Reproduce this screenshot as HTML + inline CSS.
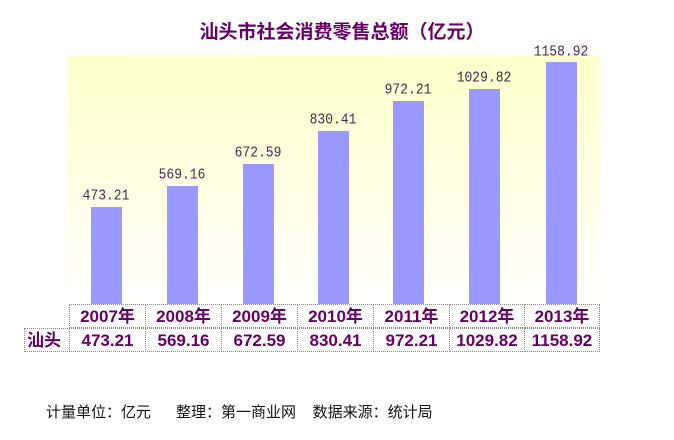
<!DOCTYPE html><html><head><meta charset="utf-8"><style>
body{margin:0;width:674px;height:440px;background:#fff;position:relative;overflow:hidden;font-family:"Liberation Sans","Noto Sans CJK SC",sans-serif}
.a{position:absolute}
.bar{position:absolute;width:31px;background:#9999ff}
.v{position:absolute;width:80px;text-align:center;font-family:"Liberation Mono","Noto Sans CJK SC",monospace;font-size:13px;color:#4a2a4a;transform:scaleY(1.15)}
.c{position:absolute;height:24px;line-height:24px;text-align:center;font-weight:bold;font-size:17px;color:#660066;box-sizing:border-box;border:1px dotted #888}
</style></head><body>
<div class="a" style="left:68px;top:55px;width:532px;height:250px;background:linear-gradient(#ffffcc,#ffffe8 60%,#fff)"></div>
<div class="a" style="left:0;top:19px;width:674px;text-align:center;font-size:19px;font-weight:bold;color:#660066;font-family:'Noto Sans CJK SC',sans-serif;line-height:24px;padding-left:5px">汕头市社会消费零售总额（亿元）</div>
<div class="bar" style="left:91px;top:207px;height:97px"></div>
<div class="bar" style="left:167px;top:186px;height:118px"></div>
<div class="bar" style="left:243px;top:164px;height:140px"></div>
<div class="bar" style="left:318px;top:131px;height:173px"></div>
<div class="bar" style="left:393px;top:101px;height:203px"></div>
<div class="bar" style="left:469px;top:89px;height:215px"></div>
<div class="bar" style="left:546px;top:62px;height:242px"></div>
<div class="v" style="left:66px;top:188px">473.21</div>
<div class="v" style="left:142px;top:167px">569.16</div>
<div class="v" style="left:218px;top:145px">672.59</div>
<div class="v" style="left:293px;top:112px">830.41</div>
<div class="v" style="left:368px;top:82px">972.21</div>
<div class="v" style="left:444px;top:70px">1029.82</div>
<div class="v" style="left:521px;top:44px">1158.92</div>
<div class="c" style="left:69px;top:304px;width:77px">2007年</div>
<div class="c" style="left:145px;top:304px;width:77px">2008年</div>
<div class="c" style="left:221px;top:304px;width:77px">2009年</div>
<div class="c" style="left:297px;top:304px;width:77px">2010年</div>
<div class="c" style="left:373px;top:304px;width:77px">2011年</div>
<div class="c" style="left:449px;top:304px;width:76px">2012年</div>
<div class="c" style="left:524px;top:304px;width:76px">2013年</div>
<div class="c" style="left:24px;top:328px;width:46px;text-align:left;padding-left:2px">汕头</div>
<div class="c" style="left:69px;top:328px;width:77px">473.21</div>
<div class="c" style="left:145px;top:328px;width:77px">569.16</div>
<div class="c" style="left:221px;top:328px;width:77px">672.59</div>
<div class="c" style="left:297px;top:328px;width:77px">830.41</div>
<div class="c" style="left:373px;top:328px;width:77px">972.21</div>
<div class="c" style="left:449px;top:328px;width:76px">1029.82</div>
<div class="c" style="left:524px;top:328px;width:76px">1158.92</div>
<div class="a" style="left:46px;top:401px;font-size:15px;color:#111;white-space:pre">计量单位：亿元      整理：第一商业网    数据来源：统计局</div>
</body></html>
